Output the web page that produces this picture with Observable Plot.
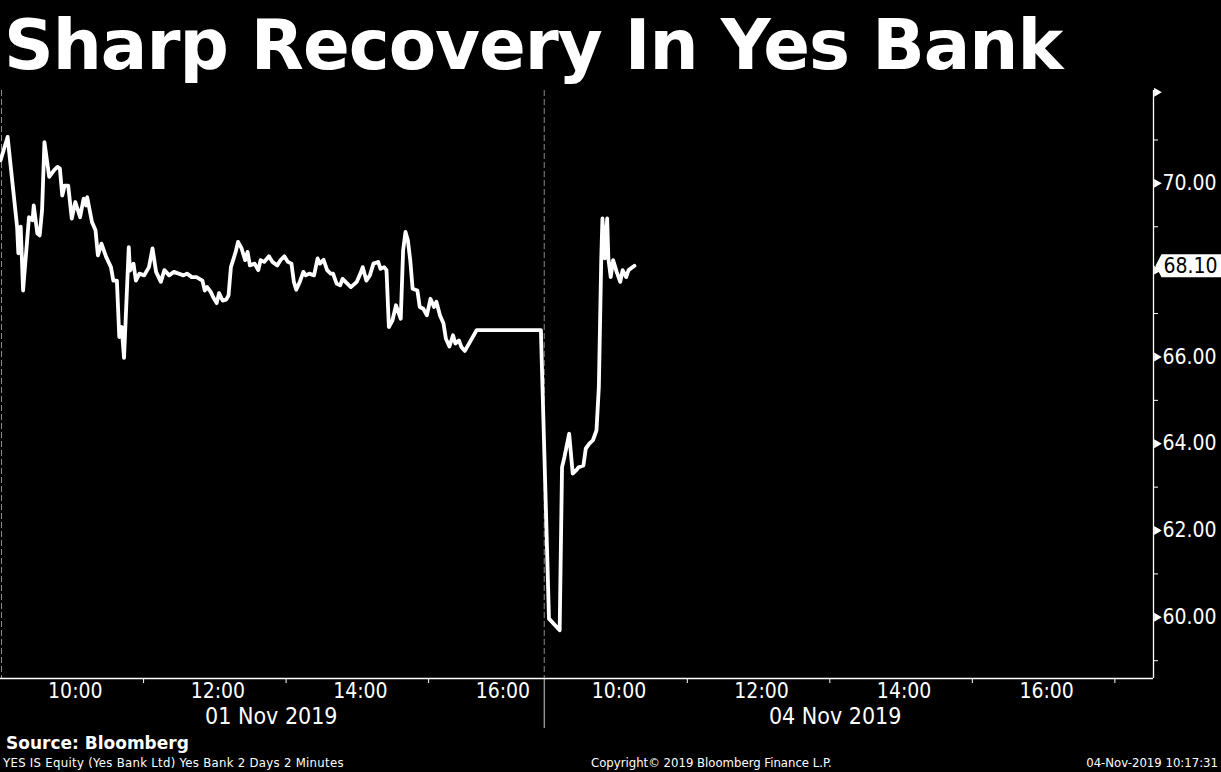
<!DOCTYPE html>
<html><head><meta charset="utf-8">
<script src="https://cdn.jsdelivr.net/npm/d3@7"></script>
<script src="https://cdn.jsdelivr.net/npm/@observablehq/plot@0.6"></script>
<style>
html,body{margin:0;padding:0;background:#000;}
body{width:1221px;height:772px;overflow:hidden;position:relative;color:#fff;}
#title{position:absolute;left:4px;top:0;height:77px;font-family:"DejaVu Sans";font-weight:bold;font-size:69px;letter-spacing:-1px;line-height:1;padding-top:11px;white-space:nowrap;}
#chart{position:absolute;left:0;top:88px;}
#source{position:absolute;left:6px;top:733px;font-family:"DejaVu Sans";font-weight:bold;font-size:17px;line-height:20px;}
.foot{position:absolute;top:754px;font-family:"DejaVu Sans Condensed","DejaVu Sans";font-stretch:condensed;font-size:13px;line-height:18px;white-space:nowrap;}
</style></head>
<body>
<div id="title">Sharp Recovery In Yes Bank</div>
<div id="chart"></div>
<div id="source">Source: Bloomberg</div>
<div class="foot" style="left:3px;letter-spacing:0.3px">YES IS Equity (Yes Bank Ltd) Yes Bank 2 Days 2 Minutes</div>
<div class="foot" style="left:591px">Copyright© 2019 Bloomberg Finance L.P.</div>
<div class="foot" style="right:3px">04-Nov-2019 10:17:31</div>
<script>
// ---- data ----
const day1Times = ["08:57","09:03","09:11","09:12","09:14","09:16","09:21","09:24","09:25","09:28","09:30","09:32","09:34","09:38","09:42","09:45","09:47","09:49","09:51","09:54","09:57","10:00","10:04","10:07","10:09","10:10","10:14","10:17","10:19","10:22","10:26","10:30","10:32","10:35","10:37","10:39","10:41","10:45","10:46","10:49","10:51","10:54","10:58","11:02","11:05","11:08","11:12","11:15","11:19","11:23","11:27","11:31","11:34","11:38","11:42","11:47","11:49","11:51","11:54","11:56","11:59","12:01","12:04","12:07","12:09","12:11","12:15","12:17","12:20","12:23","12:25","12:27","12:31","12:34","12:36","12:39","12:43","12:46","12:50","12:53","12:56","12:59","13:02","13:04","13:06","13:09","13:12","13:14","13:17","13:21","13:24","13:26","13:29","13:32","13:35","13:37","13:40","13:43","13:45","13:49","13:52","13:57","14:00","14:02","14:05","14:08","14:11","14:15","14:17","14:20","14:22","14:24","14:27","14:30","14:34","14:36","14:38","14:40","14:42","14:44","14:48","14:50","14:53","14:56","14:59","15:02","15:04","15:07","15:10","15:12","15:15","15:18","15:20","15:23","15:25","15:28","15:38","16:32"];
const day1Prices = [70.53,71.07,68.99,68.39,69.00,67.53,69.22,69.15,69.49,68.85,68.80,69.38,70.95,70.15,70.30,70.38,70.34,69.72,69.95,69.95,69.19,69.57,69.22,69.65,69.49,69.68,69.11,68.92,68.34,68.61,68.30,68.07,67.76,67.76,66.46,66.69,65.98,68.53,67.99,68.15,67.76,67.92,67.88,68.07,68.50,67.96,67.73,68.00,67.88,67.96,67.92,67.88,67.92,67.84,67.84,67.76,67.53,67.61,67.50,67.38,67.24,67.47,67.30,67.32,67.42,68.07,68.42,68.65,68.50,68.23,68.42,68.11,68.15,68.00,68.23,68.19,68.32,68.19,68.11,68.24,68.32,68.19,68.15,67.73,67.55,67.73,67.96,67.88,67.92,67.88,68.27,68.15,68.24,68.00,67.92,67.92,67.69,67.65,67.80,67.69,67.61,67.73,67.92,68.07,67.76,67.88,68.15,68.19,68.03,68.07,68.00,66.69,66.84,67.19,66.88,68.46,68.88,68.69,68.23,67.57,67.53,67.15,67.11,66.96,67.34,67.15,67.27,66.96,66.77,66.42,66.24,66.50,66.31,66.38,66.23,66.14,66.62,66.62];
const day2Times = ["09:01","09:10","09:12","09:14","09:18","09:21","09:24","09:26","09:30","09:32","09:35","09:38","09:40","09:41","09:43","09:45","09:46","09:48","09:50","09:51","09:53","09:55","09:58","10:01","10:03","10:06","10:08","10:13"];
const day2Prices = [59.97,59.70,63.46,63.69,64.23,63.31,63.39,63.46,63.50,63.89,64.00,64.08,64.23,64.31,65.31,68.23,69.19,68.27,69.19,68.27,67.84,68.23,67.96,67.73,68.00,67.84,68.00,68.10];
const dayLabels = ["01 Nov 2019","04 Nov 2019"];
const dayLabelTimes = ["12:45","13:02"];
const hourLabels = ["10:00","12:00","14:00","16:00"];
const hourTickTimes = [["11:00","13:00","15:00"],["11:00","13:00","15:00","17:00"]];
const yMajorTicks = [60,62,64,66,68,70,72.1];
const yLabelTicks = [60,62,64,66,70];
const yMinorTicks = [59,61,63,65,67,69,71];
const lastPrice = [68.10];

// ---- composite intraday time axis: day 2 follows day 1 session ----
const sessionStart = 8.95;   // 08:57
const daySpan = 7.63;        // hours shown per day-1 session
const sessionEndDay2 = 17.5;
const toHours = s => { const [h, m] = s.split(":").map(Number); return h + m / 60; };
const toT = (s, day) => toHours(s) + day * daySpan;

const series = [
  ...day1Times.map((s, i) => ({t: toT(s, 0), price: day1Prices[i]})),
  ...day2Times.map((s, i) => ({t: toT(s, 1), price: day2Prices[i]}))
];
const hourLabelData = [0, 1].flatMap(d => hourLabels.map(l => ({t: toT(l, d), label: l})));
const hourTickData = [0, 1].flatMap(d => hourTickTimes[d].map(l => toT(l, d)));
const dayLabelData = dayLabels.map((l, d) => ({t: toT(dayLabelTimes[d], d), label: l}));
const tSep = sessionStart + daySpan;
const xDomain = [sessionStart, sessionEndDay2 + daySpan];
const yDomain = [58.59, 72.14];

const W = 1221, H = 644, mT = 2, mB = 54, mR = 68;
const frameH = H - mT - mB;
const axisFont = '"DejaVu Sans Condensed","DejaVu Sans"';

// tag shape for the last-price label (pointer to the left)
const tagSymbol = {
  draw(ctx) {
    ctx.moveTo(2, 0);
    ctx.lineTo(8, -11.5);
    ctx.lineTo(72, -11.5);
    ctx.lineTo(72, 11.5);
    ctx.lineTo(8, 11.5);
    ctx.closePath();
  }
};

const chart = Plot.plot({
  width: W, height: H,
  marginTop: mT, marginBottom: mB, marginLeft: 0, marginRight: mR,
  style: {background: "black", color: "white", fontFamily: axisFont, fontStretch: "condensed", overflow: "visible"},
  x: {domain: xDomain, axis: null},
  y: {domain: yDomain, axis: null},
  marks: [
    Plot.ruleX([xDomain[0]], {stroke: "#8a8a8a", strokeDasharray: "6,3", dx: 1}),
    Plot.ruleX([tSep], {stroke: "#8a8a8a", strokeDasharray: "6,3"}),
    Plot.ruleX([tSep], {stroke: "#cfcfcf", insetTop: frameH, insetBottom: -50}),
    Plot.ruleX([xDomain[1]], {stroke: "white", strokeWidth: 1.3}),
    Plot.ruleY([yDomain[0]], {stroke: "white", strokeWidth: 1.3}),
    Plot.axisX(hourTickData, {tickSize: 5, tickFormat: () => "", label: null, stroke: "white", dx: -3}),
    Plot.text(hourLabelData, {x: "t", text: "label", frameAnchor: "bottom", dy: 19, fill: "white", fontSize: 21}),
    Plot.text(dayLabelData, {x: "t", text: "label", frameAnchor: "bottom", dy: 45, fill: "white", fontSize: 23}),
    Plot.axisY(yMinorTicks, {anchor: "right", tickSize: 4, tickFormat: () => "", label: null, stroke: "white"}),
    Plot.dot(yMajorTicks, {y: d => d, frameAnchor: "right", symbol: "triangle", r: 3.3, rotate: 90, fill: "white", dx: 3.2}),
    Plot.text(yLabelTicks, {y: d => d, text: d => d.toFixed(2), frameAnchor: "right", textAnchor: "start", dx: 9, fill: "white", fontSize: 21}),
    Plot.line(series, {x: "t", y: "price", stroke: "white", strokeWidth: 3.8, strokeLinejoin: "round", strokeLinecap: "round"}),
    Plot.dot(lastPrice, {y: d => d, frameAnchor: "right", symbol: tagSymbol, fill: "white", stroke: "none"}),
    Plot.text(lastPrice, {y: d => d, text: d => d.toFixed(2), frameAnchor: "right", textAnchor: "start", dx: 10, fill: "black", fontSize: 21})
  ]
});
document.getElementById("chart").appendChild(chart);
</script>
</body></html>
